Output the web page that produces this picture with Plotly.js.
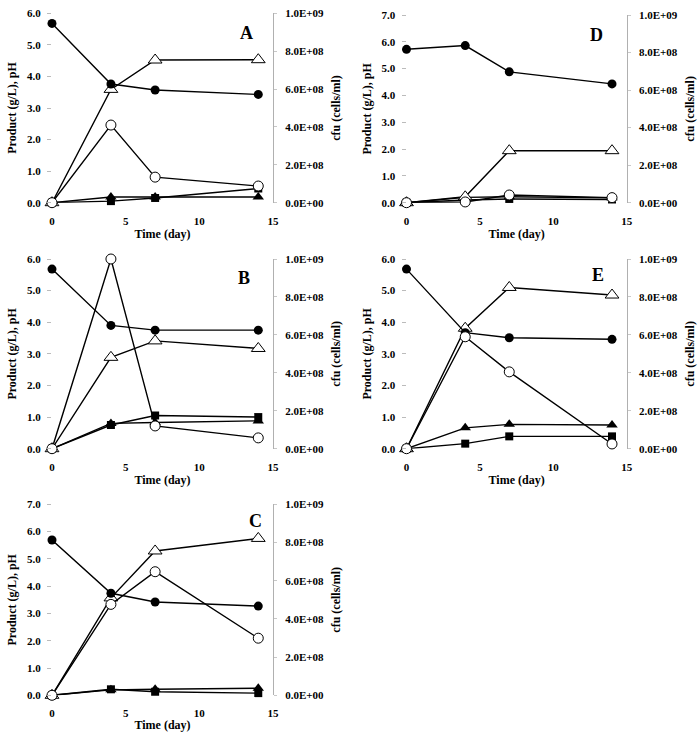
<!DOCTYPE html>
<html><head><meta charset="utf-8">
<script src="https://cdn.plot.ly/plotly-3.0.1.min.js"></script>
<style>html,body{margin:0;padding:0;background:#fff}#chart{width:699px;height:732px}</style>
</head><body><div id="chart"></div>
<script>
// ---- data ----
const days = [0, 4, 7, 14];
const xTickVals = [0, 5, 10, 15];
const cfuTickVals = [0, 2e8, 4e8, 6e8, 8e8, 1e9];
const cfuTickText = ["0.0E+00", "2.0E+08", "4.0E+08", "6.0E+08", "8.0E+08", "1.0E+09"];
const panelLabels = ["A", "B", "C", "D", "E"];
const leftMaxes = [6, 6, 7, 7, 6];

// pH (filled circles)
const phA = [5.68, 3.76, 3.57, 3.43];
const phB = [5.68, 3.90, 3.75, 3.75];
const phC = [5.69, 3.74, 3.42, 3.27];
const phD = [5.72, 5.86, 4.88, 4.43];
const phE = [5.68, 3.67, 3.51, 3.46];
// open triangles (g/L)
const openTriA = [0, 3.59, 4.52, 4.53];
const openTriB = [0, 2.89, 3.41, 3.17];
const openTriC = [0, 3.57, 5.29, 5.75];
const openTriD = [0, 0.22, 1.94, 1.94];
const openTriE = [0, 3.81, 5.10, 4.86];
// cfu (open circles, cells/ml)
const cfuA = [0, 4.1e8, 1.35e8, 0.88e8];
const cfuB = [0, 1.0e9, 1.2e8, 0.57e8];
const cfuC = [0, 4.76e8, 6.47e8, 2.99e8];
const cfuD = [0, 0.4e7, 4.1e7, 2.7e7];
const cfuE = [0, 5.9e8, 4.05e8, 0.25e8];
// filled squares (g/L)
const sqA = [0, 0.05, 0.15, 0.45];
const sqB = [0, 0.75, 1.05, 1.00];
const sqC = [0, 0.22, 0.13, 0.08];
const sqD = [0, 0.10, 0.14, 0.12];
const sqE = [0, 0.16, 0.39, 0.39];
// filled triangles (g/L)
const triA = [0, 0.18, 0.18, 0.18];
const triB = [0, 0.80, 0.83, 0.88];
const triC = [0, 0.20, 0.22, 0.26];
const triD = [0, 0.20, 0.22, 0.18];
const triE = [0, 0.66, 0.77, 0.75];

const panelData = [
  {ph: phA, ot: openTriA, cfu: cfuA, sq: sqA, tri: triA},
  {ph: phB, ot: openTriB, cfu: cfuB, sq: sqB, tri: triB},
  {ph: phC, ot: openTriC, cfu: cfuC, sq: sqC, tri: triC},
  {ph: phD, ot: openTriD, cfu: cfuD, sq: sqD, tri: triD},
  {ph: phE, ot: openTriE, cfu: cfuE, sq: sqE, tri: triE}
];

// ---- layout geometry (pixels) ----
const W = 699, H = 732;
const boxes = [
  {l: 52, r: 273, t: 13.3, b: 202.7},
  {l: 52, r: 273, t: 259, b: 448.7},
  {l: 52, r: 273, t: 504.3, b: 695.3},
  {l: 406.5, r: 626.7, t: 15, b: 202.7},
  {l: 406.5, r: 626.7, t: 259, b: 448.7}
];
const letterPos = [
  {x: 0.88, y: 0.895}, {x: 0.87, y: 0.90}, {x: 0.92, y: 0.91},
  {x: 0.865, y: 0.895}, {x: 0.87, y: 0.915}
];

const FONT = "Liberation Serif, Times New Roman, serif";
const tf = {family: FONT, size: 11, color: '#000', weight: 'bold'};
const titleF = {family: FONT, size: 12, color: '#000', weight: 'bold'};

const traces = [];
const layout = {
  width: W, height: H, margin: {l: 0, r: 0, t: 0, b: 0},
  paper_bgcolor: '#fff', plot_bgcolor: 'rgba(0,0,0,0)',
  showlegend: false, annotations: []
};

const LW = 1.4;
panelData.forEach((d, k) => {
  const xn = k + 1, yl = 2 * k + 1, yr = 2 * k + 2;
  const xRef = 'x' + (xn === 1 ? '' : xn);
  const ylRef = 'y' + (yl === 1 ? '' : yl);
  const yrRef = 'y' + yr;
  const bx = boxes[k];
  const xdom = [bx.l / W, bx.r / W];
  const ydom = [1 - bx.b / H, 1 - bx.t / H];
  const lmax = leftMaxes[k];
  const leftVals = [];
  for (let v = 0; v <= lmax; v++) leftVals.push(v);

  layout['xaxis' + (xn === 1 ? '' : xn)] = {
    domain: xdom, anchor: ylRef, range: [0, 15], tickvals: xTickVals,
    showline: false, showgrid: false, zeroline: false, ticks: '',
    tickfont: tf, ticklabelstandoff: 10, automargin: false, fixedrange: true,
    title: {text: 'Time (day)', font: titleF, standoff: 3}
  };
  layout['yaxis' + (yl === 1 ? '' : yl)] = {
    domain: ydom, anchor: xRef, range: [0, lmax], tickvals: leftVals,
    tickformat: '.1f', showline: false, showgrid: false, zeroline: false,
    ticks: 'outside', ticklen: 4, tickcolor: '#bbb', tickfont: tf,
    ticklabelstandoff: 4, automargin: false, fixedrange: true,
    title: {text: 'Product (g/L), pH', font: titleF, standoff: 7}
  };
  layout['yaxis' + yr] = {
    overlaying: ylRef, side: 'right', anchor: xRef, range: [0, 1e9],
    tickvals: cfuTickVals, ticktext: cfuTickText,
    showline: true, linecolor: '#b0b0b0', linewidth: 1,
    showgrid: false, zeroline: false, ticks: 'outside', ticklen: 3,
    tickcolor: '#c8c8c8', tickfont: tf, ticklabelstandoff: 6,
    automargin: false, fixedrange: true,
    title: {text: 'cfu (cells/ml)', font: titleF, standoff: 8}
  };

  const base = {x: days, xaxis: xRef, mode: 'lines+markers', cliponaxis: false,
                line: {color: '#000', width: LW}, hoverinfo: 'skip'};
  traces.push(Object.assign({}, base, {y: d.sq, yaxis: ylRef,
    marker: {symbol: 'square', size: 8, color: '#000'}}));
  traces.push(Object.assign({}, base, {y: d.tri, yaxis: ylRef,
    marker: {symbol: 'triangle-up', size: 10, color: '#000'}}));
  traces.push(Object.assign({}, base, {y: d.ot, yaxis: ylRef,
    marker: {symbol: 'triangle-up', size: 12, color: '#fff', line: {color: '#000', width: 1}}}));
  traces.push(Object.assign({}, base, {y: d.ph, yaxis: ylRef,
    marker: {symbol: 'circle', size: 9, color: '#000'}}));
  traces.push(Object.assign({}, base, {y: d.cfu, yaxis: yrRef,
    marker: {symbol: 'circle', size: 10, color: '#fff', line: {color: '#000', width: 1}}}));

  layout.annotations.push({
    text: panelLabels[k], xref: xRef + ' domain', yref: ylRef + ' domain',
    x: letterPos[k].x, y: letterPos[k].y, xanchor: 'center', yanchor: 'middle',
    showarrow: false, font: {family: FONT, size: 18, color: '#000', weight: 'bold'}
  });
});

Plotly.newPlot('chart', traces, layout, {staticPlot: true, displayModeBar: false});
</script>
</body></html>
